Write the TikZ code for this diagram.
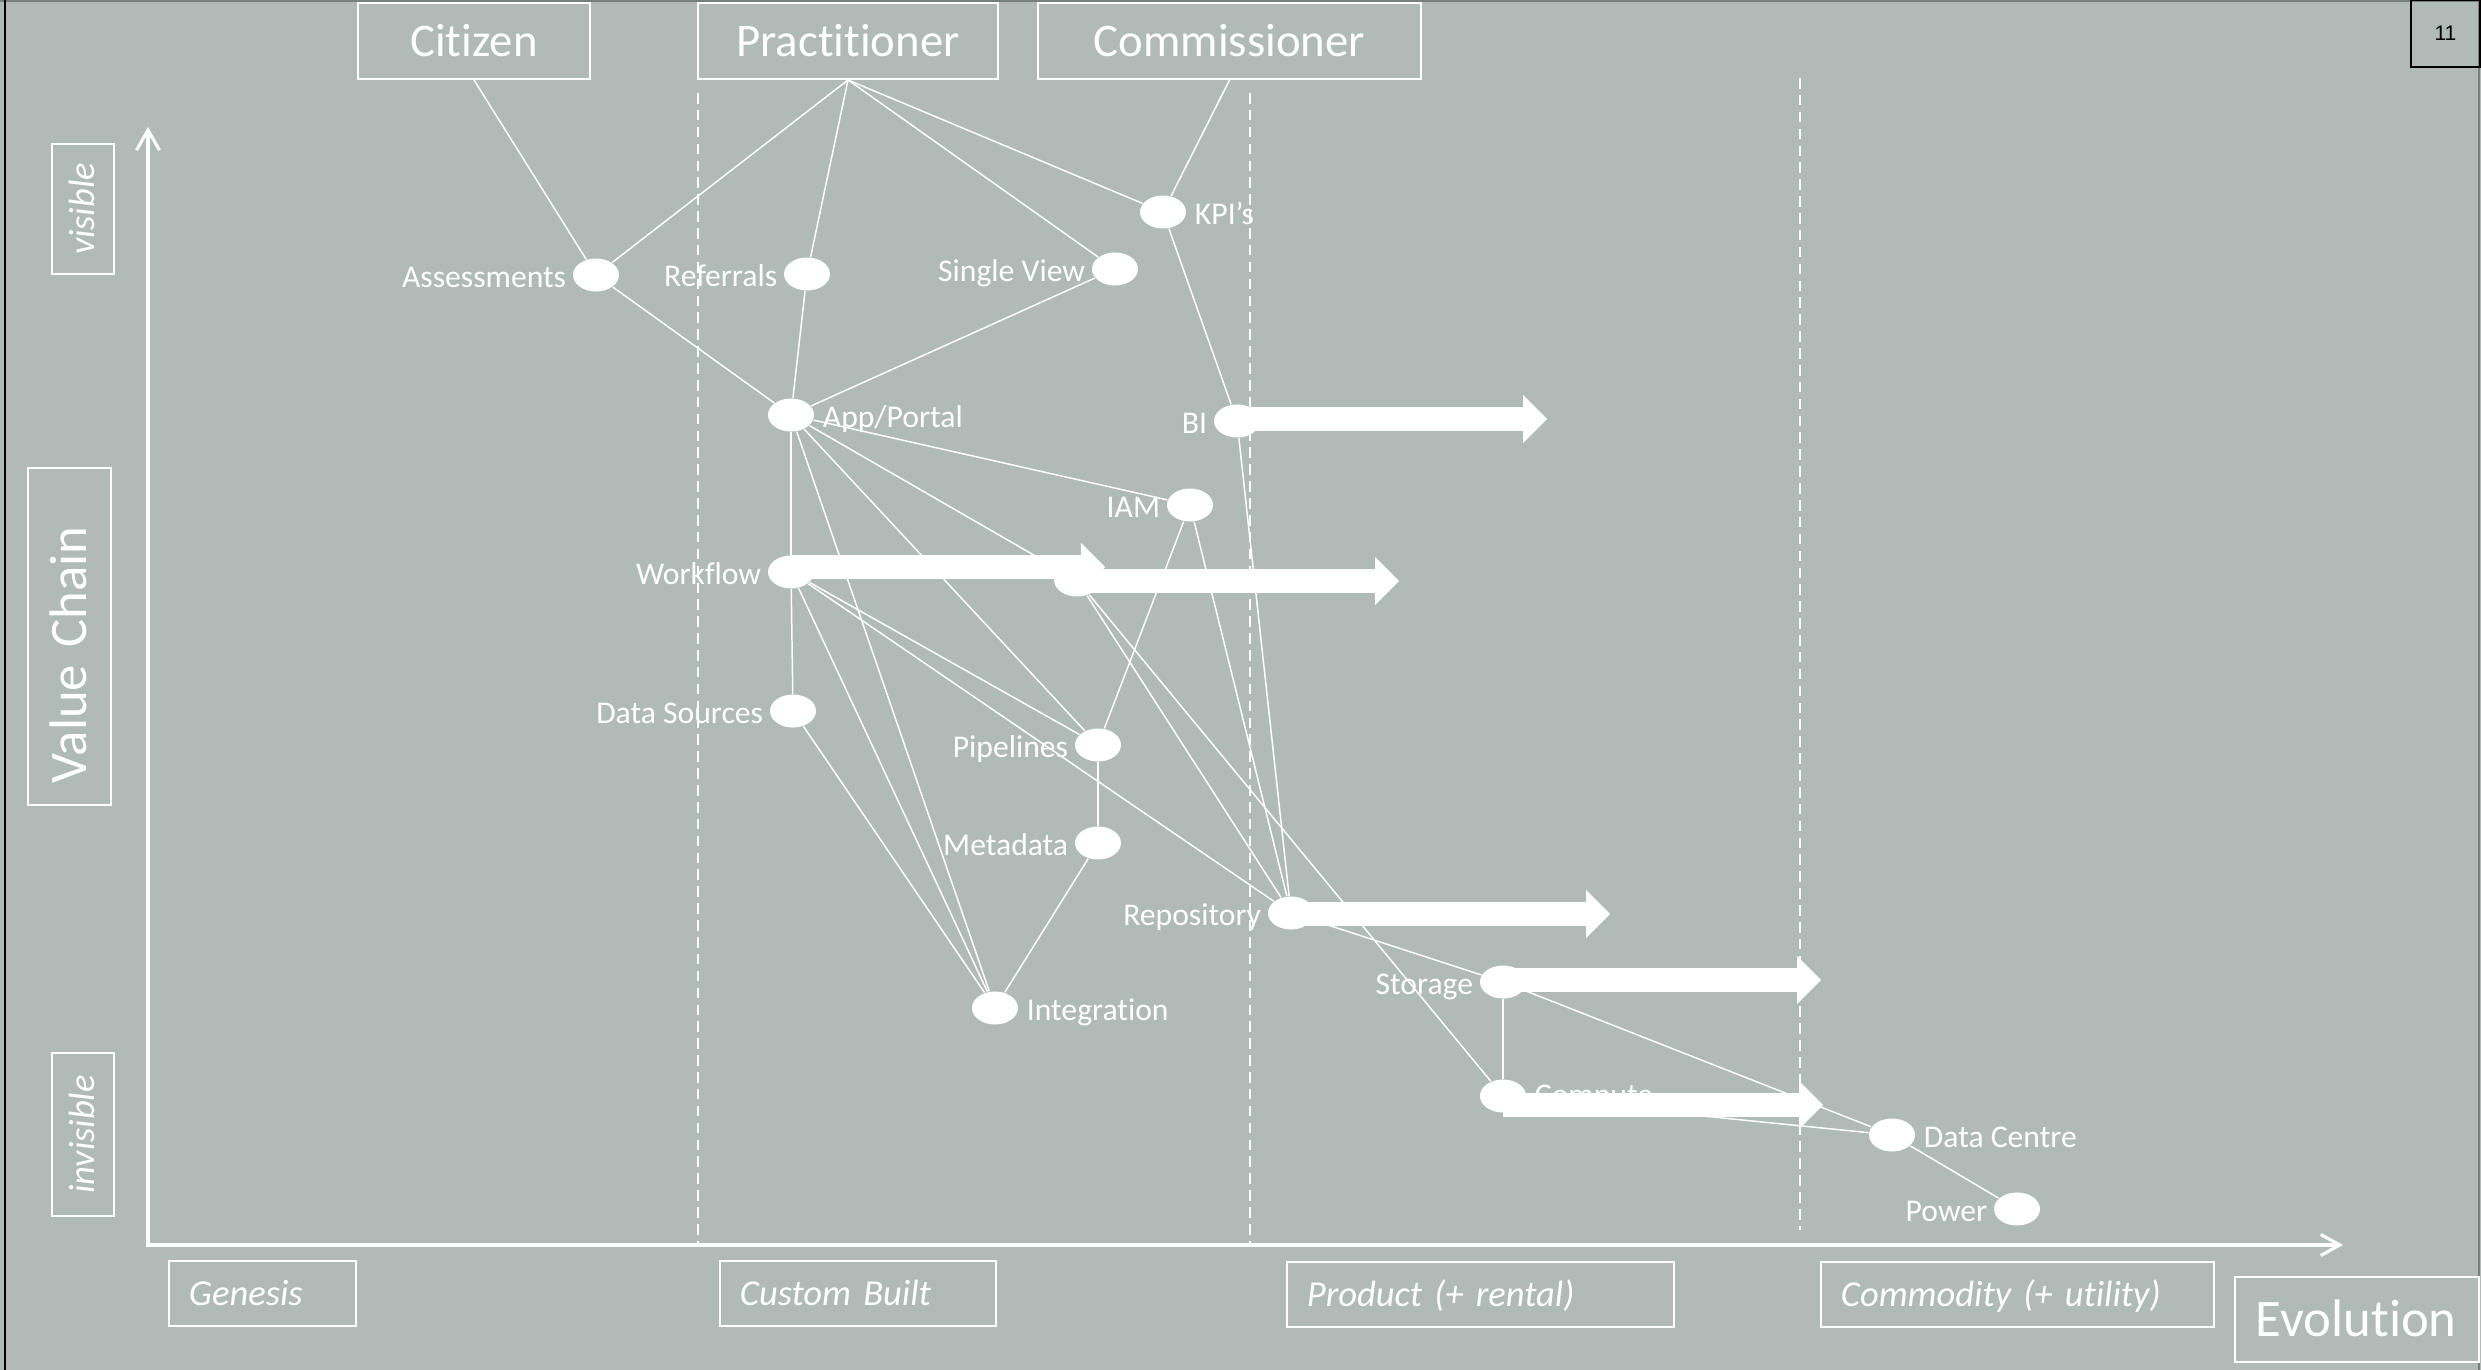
\documentclass[tikz,border=0pt]{standalone}
\usepackage{fontspec}
\setmainfont{Carlito}[Ligatures=NoCommon]
\newfontfamily\arialf{Liberation Sans}
\usetikzlibrary{shapes.geometric,arrows.meta,calc}
\definecolor{bgc}{RGB}{176,186,182}
\definecolor{edgec}{RGB}{120,128,125}
\begin{document}
\begin{tikzpicture}[x=0.01cm,y=-0.01cm,
  wire/.style={draw=white, line width=0.42pt},
  dot/.style={ellipse, fill=white, draw=none, minimum width=0.46cm, minimum height=0.33cm, inner sep=0pt},
  lbl/.style={text=white, font=\fontsize{9pt}{10pt}\selectfont, inner sep=0pt, text height=5.8pt, text depth=0pt, yshift=-0.02cm},
  lblL/.style={lbl, anchor=east, xshift=-0.055cm},
  lblR/.style={lbl, anchor=west, xshift=0.075cm},
  actor/.style={draw=white, line width=0.55pt, text=white, font=\fontsize{13.3pt}{15pt}\selectfont, minimum height=0.76cm, inner sep=0pt, text height=8.6pt, text depth=0pt},
  phase/.style={draw=white, line width=0.45pt, text=white, font=\fontsize{10.4pt}{12pt}\selectfont\itshape, minimum height=0.65cm, inner xsep=0.2cm, inner ysep=0pt, align=left, text height=6.7pt, text depth=0pt},
  side/.style={draw=white, line width=0.45pt, text=white, rotate=90, font=\fontsize{10.4pt}{12pt}\selectfont\itshape, minimum height=0.62cm, inner sep=0pt, text height=6.7pt, text depth=0pt},
  axis/.style={draw=white, line width=0.9pt},
  gridline/.style={draw=white, line width=0.35pt, dash pattern=on 3pt off 1.8pt},
  evo/.style={draw=white, line width=0.24cm, -{Triangle[length=0.24cm,width=0.48cm,line width=0pt]}}
]
\useasboundingbox (0,0) rectangle (2481,1370);
\fill[bgc] (0,0) rectangle (2481,1370);
\draw[edgec, line width=0.4pt] (0,1) -- (2481,1);
\draw[edgec, line width=0.4pt] (2479,0) -- (2479,1370);
\draw[black, line width=0.6pt] (5,0) -- (5,1370);

% page number
\node[draw=black, line width=0.5pt, minimum width=0.69cm, minimum height=0.67cm, inner sep=0pt, font=\arialf\fontsize{6pt}{7pt}\selectfont] (pgno) at (2445.5,33.5) {11};

% axes
\coordinate (O) at (148,1245);
\coordinate (ytip) at (148,127);
\coordinate (xtip) at (2343,1245);
\draw[axis, {Straight Barb[length=0.2cm,width=0.23cm]}-{Straight Barb[length=0.19cm,width=0.21cm]}] (ytip) -- (O) -- (xtip);

% stage separators
\coordinate (d1) at (698,93);
\coordinate (d2) at (1250,93);
\coordinate (d3) at (1800,78);
\coordinate (d3b) at (1800,1230);
\draw[gridline] (d1) -- (d1 |- O);
\draw[gridline] (d2) -- (d2 |- O);
\draw[gridline] (d3) -- (d3b);

% left labels
\node[side, minimum width=1.30cm] (vis) at (83,209) {visible};
\node[side, minimum width=1.63cm] (invis) at (83,1134.5) {invisible};
\node[draw=white, line width=0.45pt, text=white, rotate=90, minimum height=0.83cm, text width=2.93cm, inner xsep=0.22cm, inner ysep=0pt, align=left, font=\fontsize{15pt}{18pt}\selectfont, text height=9.66pt, text depth=0pt] (vc) at (69.5,636.5) {Value Chain};

% bottom labels
\node[phase, text width=1.47cm] (gen) at (262.5,1293.5) {Genesis};
\node[phase, text width=2.36cm] (cust) at (858,1293.5) {Custom Built};
\node[phase, text width=3.47cm] (prod) at (1480.5,1294.5) {Product (+ rental)};
\node[phase, text width=3.53cm] (commod) at (2017.5,1294.5) {Commodity (+ utility)};
\node[draw=white, line width=0.45pt, text=white, font=\fontsize{15pt}{18pt}\selectfont, minimum height=0.85cm, text width=2.02cm, inner xsep=0.21cm, inner ysep=0pt, align=left, text height=9.66pt, text depth=0pt] (evol) at (2357,1319.5) {Evolution};

% actors
\node[actor, minimum width=2.32cm] (cit) at (474,41) {Citizen};
\node[actor, minimum width=3.00cm] (pract) at (848,41) {Practitioner};
\node[actor, minimum width=3.83cm] (comm) at (1229.5,41) {Commissioner};

% components
\node[dot] (assess) at (596,275) {};
\node[dot] (referrals) at (807,274) {};
\node[dot] (single) at (1115,269) {};
\node[dot] (kpi) at (1163,212) {};
\node[dot] (app) at (791,415) {};
\node[dot] (bi) at (1237,421) {};
\node[dot] (iam) at (1190,505) {};
\node[dot] (workflow) at (791,572) {};
\node[dot] (cloud) at (1077,580) {};
\node[dot] (datasrc) at (793,711) {};
\node[dot] (pipelines) at (1098,745) {};
\node[dot] (metadata) at (1098,843) {};
\node[dot] (repo) at (1291,913) {};
\node[dot] (integ) at (995,1008) {};
\node[dot] (storage) at (1503,982) {};
\node[dot] (compute) at (1503,1096) {};
\node[dot] (dc) at (1892,1135) {};
\node[dot] (power) at (2017,1209) {};

% links
\draw[wire] (cit.south) -- (assess);
\draw[wire] (pract.south) -- (assess);
\draw[wire] (pract.south) -- (referrals);
\draw[wire] (pract.south) -- (single);
\draw[wire] (pract.south) -- (kpi);
\draw[wire] (comm.south) -- (kpi);
\draw[wire] (kpi) -- (bi);
\draw[wire] (assess) -- (app);
\draw[wire] (referrals) -- (app);
\draw[wire] (single) -- (app);
\draw[wire] (app) -- (iam);
\draw[wire] (app) -- (workflow);
\draw[wire] (app) -- (integ);
\draw[wire] (app) -- (pipelines);
\draw[wire] (app) -- (cloud);
\draw[wire] (workflow) -- (datasrc);
\draw[wire] (workflow) -- (integ);
\draw[wire] (workflow) -- (pipelines);
\draw[wire] (workflow) -- (repo);
\draw[wire] (datasrc) -- (integ);
\draw[wire] (iam) -- (pipelines);
\draw[wire] (iam) -- (repo);
\draw[wire] (bi) -- (repo);
\draw[wire] (cloud) -- (repo);
\draw[wire] (cloud) -- (compute);
\draw[wire] (pipelines) -- (metadata);
\draw[wire] (metadata) -- (integ);
\draw[wire] (repo) -- (storage);
\draw[wire] (storage) -- (compute);
\draw[wire] (storage) -- (dc);
\draw[wire] (compute) -- (dc);
\draw[wire] (dc) -- (power);

% component labels
\node[lblL] (assessL) at (assess.west) {Assessments};
\node[lblL] (referralsL) at (referrals.west) {Referrals};
\node[lblL] (singleL) at (single.west) {Single View};
\node[lblR] (kpiL) at (kpi.east) {KPI’s};
\node[lblR] (appL) at (app.east) {App/Portal};
\node[lblL] (biL) at (bi.west) {BI};
\node[lblL] (iamL) at (iam.west) {IAM};
\node[lblL] (workflowL) at (workflow.west) {Workflow};
\node[lblR] (cloudL) at (cloud.east) {Cloud};
\node[lblL] (datasrcL) at (datasrc.west) {Data Sources};
\node[lblL] (pipelinesL) at (pipelines.west) {Pipelines};
\node[lblL] (metadataL) at (metadata.west) {Metadata};
\node[lblL] (repoL) at (repo.west) {Repository};
\node[lblR] (integL) at (integ.east) {Integration};
\node[lblL] (storageL) at (storage.west) {Storage};
\node[lblR, yshift=0.03cm] (computeL) at (compute.east) {Compute};
\node[lblR] (dcL) at (dc.east) {Data Centre};
\node[lblL] (powerL) at (power.west) {Power};

% evolution arrows
\coordinate (biT) at (1547,419);
\coordinate (wfT) at (1105,567);
\coordinate (cloudT) at (1399,581);
\coordinate (repoT) at (1610,914);
\coordinate (storT) at (1821,980);
\coordinate (compT) at (1823,1105);
\draw[evo] (bi.center |- biT) -- (biT);
\draw[evo] (workflow.center |- wfT) -- (wfT);
\draw[evo] (cloud.center |- cloudT) -- (cloudT);
\draw[evo] (repo.center |- repoT) -- (repoT);
\draw[evo] (storage.center |- storT) -- (storT);
\draw[evo] (compute.center |- compT) -- (compT);
\end{tikzpicture}
\end{document}
